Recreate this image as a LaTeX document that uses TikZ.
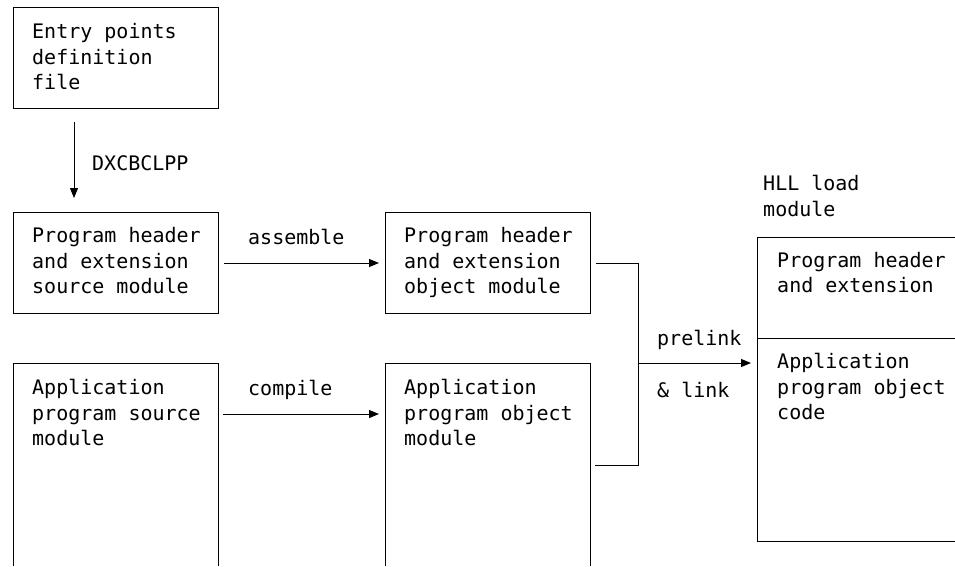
\documentclass[tikz,border=0pt]{standalone}
\usepackage{fontspec}
\newfontfamily\monof{DejaVu Sans Mono}
\usetikzlibrary{arrows.meta}
\begin{document}
\begin{tikzpicture}[x=1pt,y=-1pt,
  box/.style={draw, line width=1pt, minimum width=205pt, minimum height=101pt, inner sep=0pt, anchor=north west},
  txt/.style={font=\monof\fontsize{20}{25.5}\selectfont, align=left, inner sep=0pt, anchor=west},
  arr/.style={line width=1pt, -{Triangle[length=10pt,width=8pt]}},
  ln/.style={line width=1pt}]
\useasboundingbox (0,0) rectangle (955,566);
% closed boxes
\node[box] (box1) at (13,7) {};
\node[txt] (t1) at ([xshift=19pt,yshift=-1pt]box1.west) {\strut Entry points\\\strut definition\\\strut file};
\node[box] (box2) at (13,212) {};
\node[txt] (t2) at ([xshift=19pt]box2.west) {\strut Program header\\\strut and extension\\\strut source module};
\node[box] (box3) at (385,212) {};
\node[txt] (t3) at ([xshift=19pt]box3.west) {\strut Program header\\\strut and extension\\\strut object module};
% open boxes
\draw[ln] (13,566) |- (218,363) -- (218,566);
\node[txt] (t4) at (32,415) {\strut Application\\\strut program source\\\strut module};
\draw[ln] (385,566) |- (590,363) -- (590,566);
\node[txt] (t5) at (404,415) {\strut Application\\\strut program object\\\strut module};
% HLL load module
\draw[ln] (955,237) -| (757,541) -- (955,541);
\draw[ln] (757,338) -- (955,338);
\node[txt] (h1) at (763,198.5) {\strut HLL load\\\strut module};
\node[txt] (h2) at (777,275) {\strut Program header\\\strut and extension};
\node[txt] (h3) at (777,389) {\strut Application\\\strut program object\\\strut code};
% connectors
\draw[arr] ([xshift=61pt,yshift=-13pt]box1.south west) -- ([xshift=61pt,yshift=14pt]box2.north west);
\node[txt] (l1) at (92,163) {DXCBCLPP};
\draw[arr] ([xshift=5pt]box2.east) -- ([xshift=-6pt]box3.west);
\node[txt] (l2) at (248,237) {assemble};
\coordinate (b4e) at (218,414);
\coordinate (b5w) at (385,414);
\draw[arr] ([xshift=5pt]b4e) -- ([xshift=-6pt]b5w);
\node[txt] (l3) at (248,390) {compile};
\coordinate (join) at (638,363);
\coordinate (b5e) at (590,465);
\coordinate (hllw) at (757,363);
\draw[ln] ([xshift=5pt]box3.east) -| (join);
\draw[ln] ([xshift=5pt]b5e) -| (join);
\draw[arr] (join) -- ([xshift=-6pt]hllw);
\node[txt] (l4) at (657,340) {prelink};
\node[txt] (l5) at (657,390) {\& link};
\end{tikzpicture}
\end{document}
